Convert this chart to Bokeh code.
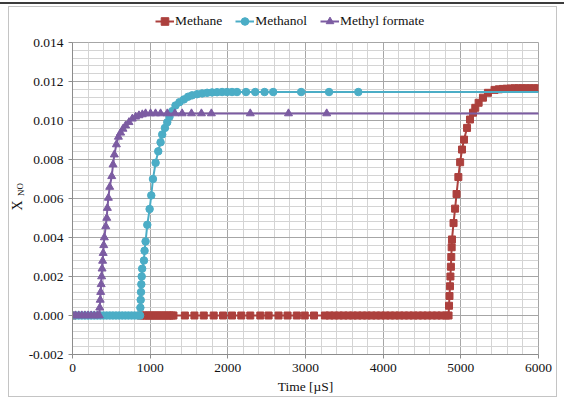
from bokeh.plotting import figure
from bokeh.models import (FixedTicker, PrintfTickFormatter, Label, Legend,
                          LegendItem, Range1d)
from bokeh.layouts import column, row
from bokeh.embed import file_html
from bokeh.resources import INLINE

# NO mole fraction vs. time for three fuels
methane_t = [0, 880, 920, 950, 980, 1010, 1040, 1070, 1100, 1130, 1160, 1190,
             1220, 1250, 1280, 1300, 1447, 1570, 1690, 1818, 1938, 2054, 2173,
             2289, 2418, 2525, 2653, 2769, 2888, 2990, 3110,
             3250, 3310, 3370, 3430, 3490, 3550, 3610, 3670, 3730, 3790, 3850,
             3910, 3970, 4030, 4090, 4150, 4210, 4270, 4330, 4390, 4450, 4510,
             4570, 4630, 4690, 4750, 4810, 4842,
             4848, 4854, 4860, 4866, 4872, 4877, 4882, 4886,
             4906, 4926, 4945, 4968, 4991, 5015, 5041, 5080, 5118, 5157, 5186,
             5229, 5285, 5349, 5434, 5490, 5540, 5590, 5640, 5690, 5740, 5790,
             5840, 5890, 5940, 5990]
methane_x = [0.0] * 59 + [
    0.0005, 0.0010, 0.0015, 0.0020, 0.0025, 0.0030, 0.0035, 0.0039,
    0.00474, 0.00548, 0.00623, 0.00710, 0.00786, 0.00851, 0.00902, 0.00962,
    0.01005, 0.01040, 0.01065, 0.01091, 0.01117, 0.01142, 0.01157, 0.01160,
    0.01162, 0.01163, 0.01164, 0.01165, 0.01165, 0.01165, 0.01165, 0.01165,
    0.01165, 0.01165]

methanol_t = [0, 40, 80, 120, 160, 200, 240, 280, 320, 360, 400, 440, 480, 520,
              560, 600, 640, 680, 720, 760, 800, 840, 870,
              874, 878, 882, 886, 891, 897, 920, 928, 941, 963, 993, 1014, 1036,
              1070, 1104, 1134, 1155, 1190, 1220, 1249, 1284, 1326, 1377, 1434,
              1489, 1540, 1605, 1669, 1733, 1797, 1861, 1926, 1990, 2054, 2118,
              2234, 2353, 2473, 2584, 2944, 3303, 3680, 7000]
methanol_x = [0.0] * 23 + [
    0.0004, 0.0008, 0.0012, 0.0016, 0.0020, 0.0024, 0.00282, 0.00332, 0.0038,
    0.00465, 0.00546, 0.00616, 0.00700, 0.00783, 0.00842, 0.00888, 0.00928,
    0.00962, 0.00991, 0.01019, 0.01048, 0.01077, 0.01094, 0.01108, 0.01122,
    0.01129, 0.01135, 0.01139, 0.01142, 0.01144, 0.01145, 0.01146, 0.01146,
    0.01146, 0.01146, 0.01146, 0.01146, 0.01146, 0.01146, 0.01146, 0.01146,
    0.01146, 0.01146]

formate_t = [0, 40, 80, 120, 160, 200, 240, 280, 320, 345,
             351, 357, 363, 369, 375, 381, 388, 395, 402, 410,
             428, 441, 449, 462, 479, 505, 522, 539, 565, 591, 620, 650, 684,
             727, 770, 813, 856, 899, 941, 1005, 1069, 1134, 1220, 1318, 1412,
             1532, 1660, 1788, 2289, 2781, 3273, 7000]
formate_x = [0.0] * 10 + [
    0.0004, 0.0008, 0.0012, 0.0016, 0.0020, 0.0024, 0.0028, 0.0032, 0.0036,
    0.0040, 0.00457, 0.00500, 0.00551, 0.00603, 0.00659, 0.00714, 0.00774,
    0.00825, 0.00877, 0.00916, 0.00937, 0.00957, 0.00974, 0.00991, 0.01009,
    0.01019, 0.01026, 0.01031, 0.01036, 0.01036, 0.01036, 0.01036, 0.01036,
    0.01036, 0.01036, 0.01036, 0.01036, 0.01036, 0.01036, 0.01036, 0.01036,
    0.01036]

series_names = ["Methane", "Methanol", "Methyl formate"]
x_ticks = [0, 1000, 2000, 3000, 4000, 5000, 6000]
y_ticks = [-0.002, 0.0, 0.002, 0.004, 0.006, 0.008, 0.010, 0.012, 0.014]
x_minor = [v for v in range(0, 6001, 200) if v % 1000]
y_minor = [round(-0.002 + 0.0004 * i, 4) for i in range(41) if i % 5]

FONT = "Liberation Serif"
FS = "13.5px"
C_METHANE = "#AC403D"
C_METHANOL = "#4BADC6"
C_FORMATE = "#7C5CA2"
INK = "#111111"

series = [(methane_t, methane_x), (methanol_t, methanol_x),
          (formate_t, formate_x)]
styles = [("square", 7, C_METHANE), ("circle", 7.5, C_METHANOL),
          ("triangle", 8, C_FORMATE)]

# ---- main plot -------------------------------------------------------------
p = figure(width=531, height=364, output_backend="svg", toolbar_location=None,
           title=None, x_range=Range1d(0, 6000), y_range=Range1d(-0.002, 0.014),
           min_border_left=45, min_border_right=18, min_border_top=10,
           min_border_bottom=41)
p.background_fill_color = "white"
p.outline_line_color = "#A6A6A6"

for ax in (p.xaxis[0], p.yaxis[0]):
    ax.axis_line_color = "#8C8C8C"
    ax.major_tick_line_color = "#8C8C8C"
    ax.major_tick_out = 4
    ax.major_tick_in = 0
    ax.minor_tick_line_color = None
    ax.major_label_text_font = FONT
    ax.major_label_text_font_size = FS
    ax.major_label_text_color = INK
    ax.major_label_standoff = 5

p.xaxis.ticker = FixedTicker(ticks=x_ticks, minor_ticks=x_minor)
p.yaxis.ticker = FixedTicker(ticks=y_ticks, minor_ticks=y_minor)
p.yaxis.formatter = PrintfTickFormatter(format="%.3f")
p.xaxis.axis_label = "Time [µS]"
p.xaxis.axis_label_text_font = FONT
p.xaxis.axis_label_text_font_size = FS
p.xaxis.axis_label_text_font_style = "normal"
p.xaxis.axis_label_text_color = INK
p.xaxis.axis_label_standoff = 4

p.xgrid.grid_line_color = "#A6A6A6"
p.ygrid.grid_line_color = "#A6A6A6"
p.xgrid.minor_grid_line_color = "#D4D4D4"
p.ygrid.minor_grid_line_color = "#D4D4D4"

for (t, x), (mk, sz, col) in zip(series, styles):
    p.line(t, x, line_color=col, line_width=2)
    p.scatter(t, x, marker=mk, size=sz, fill_color=col, line_color=col)

# ---- legend strip above the plot (its data range lies outside the view) ----
lg = figure(width=547, height=25, output_backend="svg",
            toolbar_location=None, title=None, x_axis_location=None,
            y_axis_location=None, min_border=0, x_range=Range1d(-20, -10),
            y_range=Range1d(-20, -10))
lg.outline_line_color = None
lg.grid.visible = False
items = []
for name, (t, x), (mk, sz, col) in zip(series_names, series, styles):
    r_line = lg.line(t, x, line_color=col, line_width=2)
    r_mark = lg.scatter(t, x, marker=mk, size=sz, fill_color=col,
                        line_color=col)
    items.append(LegendItem(label=name, renderers=[r_line, r_mark]))
legend = Legend(items=items, orientation="horizontal", location=(146, 1),
                padding=0, margin=0, spacing=13, glyph_width=19,
                glyph_height=20, label_height=20, label_standoff=1,
                label_text_font=FONT, label_text_font_size=FS,
                label_text_color=INK, border_line_alpha=0,
                background_fill_alpha=0)
lg.add_layout(legend)

# ---- y-axis title strip: X with subscript NO -------------------------------
yt = figure(width=16, height=364, output_backend="svg", toolbar_location=None,
            title=None, x_axis_location=None, y_axis_location=None,
            min_border=0, x_range=Range1d(0, 1), y_range=Range1d(0, 1))
yt.outline_line_color = None
yt.grid.visible = False
yt.add_layout(Label(x=7.5, y=149, x_units="screen", y_units="screen",
                    text="X", angle=1.5708, text_font=FONT,
                    text_font_size="14px", text_align="center",
                    text_baseline="middle", text_color=INK))
yt.add_layout(Label(x=11, y=165, x_units="screen", y_units="screen",
                    text="NO", angle=1.5708, text_font=FONT,
                    text_font_size="9px", text_align="center",
                    text_baseline="middle", text_color=INK))

inner = column(lg, row(yt, p), margin=(2, 0, 0, 8),
               styles={"border": "1px solid #C4C4C4"})
page = column(inner, width=564, styles={"border-top": "2px solid #3C3C3C",
                                        "margin-top": "2px"})
open("out.html", "w").write(file_html(page, INLINE))
